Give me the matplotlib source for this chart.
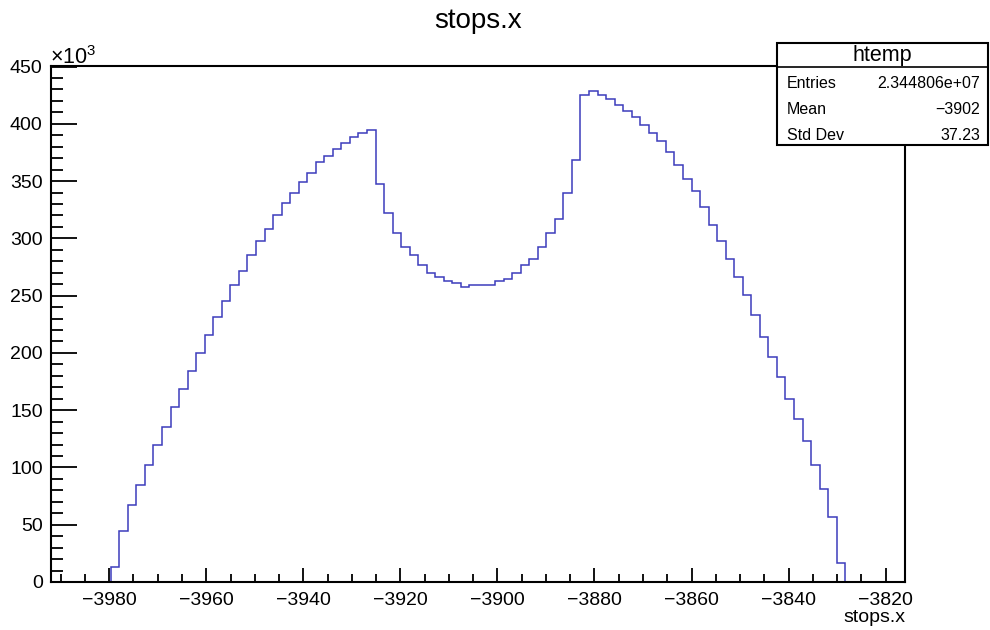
import numpy as np
import matplotlib
matplotlib.use('Agg')
import matplotlib.pyplot as plt
from matplotlib.patches import Rectangle
from matplotlib.lines import Line2D
from matplotlib.ticker import MultipleLocator

plt.rcParams['font.family'] = ['Liberation Sans', 'DejaVu Sans']
plt.rcParams['mathtext.fontset'] = 'custom'
plt.rcParams['mathtext.rm'] = 'Liberation Sans'
plt.rcParams['mathtext.it'] = 'Liberation Sans:italic'
plt.rcParams['axes.unicode_minus'] = True

# ---- data ----
x_min, x_max, n_bins = -3992.0, -3816.0, 100
first_bin = 7
counts_k = [  # bin contents in thousands, bins 7..92
    12.8, 44.5, 66.9, 84.3, 102.0, 119.5, 135.5, 152.9, 168.6, 184.3,
    200.0, 215.7, 231.4, 245.3, 259.3, 271.5, 285.4, 298.0, 308.4, 320.6,
    331.1, 339.8, 348.8, 357.5, 366.3, 371.5, 378.2, 383.7, 388.9, 392.4,
    394.2, 347.1, 322.4, 305.0, 292.8, 285.4, 277.0, 269.7, 266.2, 262.8,
    261.0, 257.5, 259.6, 259.6, 259.6, 262.8, 264.5, 269.7, 277.0, 282.3,
    292.8, 305.0, 317.2, 339.8, 368.0, 425.3, 429.0, 425.6, 421.8, 416.8,
    411.4, 406.4, 399.4, 392.4, 385.2, 375.0, 364.3, 352.1, 341.6, 327.6,
    311.9, 298.0, 282.3, 266.2, 250.5, 233.1, 214.3, 196.8, 179.0, 159.8,
    142.1, 123.2, 102.0, 80.8, 56.4, 16.3,
]
title = "stops.x"
x_label = "stops.x"
stats_name = "htemp"
stats_keys = ["Entries", "Mean", "Std Dev"]
stats_vals = ["2.344806e+07", "\u22123902", "37.23"]

W, H = 990, 630
fig = plt.figure(figsize=(W / 100, H / 100), dpi=100)

def fx(x):
    return x / W

def fy(y):
    return 1 - y / H

ax_l, ax_r, ax_t, ax_b = 51, 905, 66, 582
ax = fig.add_axes([fx(ax_l), fy(ax_b), fx(ax_r - ax_l), (ax_b - ax_t) / H])

edges_all = np.linspace(x_min, x_max, n_bins + 1)
edges = edges_all[first_bin:first_bin + len(counts_k) + 1]
ax.stairs(counts_k, edges, baseline=0, fill=False, color='#3c3cbc', lw=1.1)

ax.set_xlim(x_min, x_max)
ax.set_ylim(0, 450.5)

ax.xaxis.set_major_locator(MultipleLocator(20))
ax.xaxis.set_minor_locator(MultipleLocator(5))
ax.yaxis.set_major_locator(MultipleLocator(50))
ax.yaxis.set_minor_locator(MultipleLocator(10))

ax.tick_params(axis='x', which='major', direction='in', length=10, width=1.3,
               labelsize=14, pad=7, top=False)
ax.tick_params(axis='x', which='minor', direction='in', length=5.5, width=1.3, top=False)
ax.tick_params(axis='y', which='major', direction='in', length=18.5, width=1.3,
               labelsize=14, pad=6, right=False)
ax.tick_params(axis='y', which='minor', direction='in', length=8.4, width=1.3, right=False)
for s in ax.spines.values():
    s.set_linewidth(1.5)

# x10^3 multiplier
fig.text(fx(50), fy(64), r'$\times10^{3}$', fontsize=15.5, ha='left', va='baseline')

# title and axis label
fig.text(fx(478), fy(21), title, fontsize=20, ha='center', va='center')
fig.text(fx(905), fy(618), x_label, fontsize=14, ha='right', va='center')

# stats box
bx0, bx1, by0, by1, bsep = 777, 988, 43, 145, 67
fig.patches.append(Rectangle((fx(bx0), fy(by1)), fx(bx1 - bx0), (by1 - by0) / H,
                             transform=fig.transFigure, facecolor='white',
                             edgecolor='black', lw=1.5, zorder=5))
fig.lines.append(Line2D([fx(bx0), fx(bx1)], [fy(bsep), fy(bsep)],
                        transform=fig.transFigure, color='black', lw=1.2, zorder=6))
fig.text(fx((bx0 + bx1) / 2), fy(55), stats_name, fontsize=15.5, ha='center',
         va='center', zorder=7)
for i, (k, v) in enumerate(zip(stats_keys, stats_vals)):
    yy = 83 + 26 * i
    fig.text(fx(787), fy(yy), k, fontsize=11.5, ha='left', va='center', zorder=7)
    fig.text(fx(980), fy(yy), v, fontsize=11.5, ha='right', va='center', zorder=7)

fig.savefig('out.png', dpi=100)
